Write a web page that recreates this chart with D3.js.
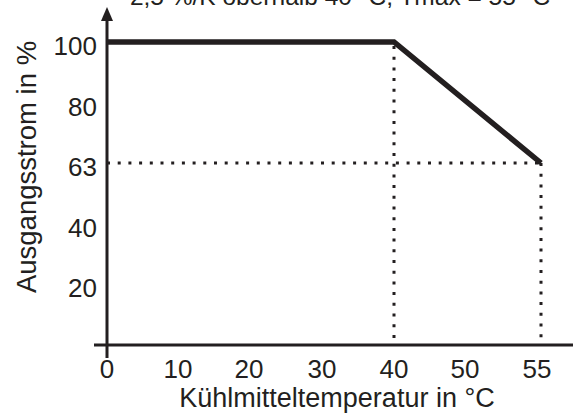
<!DOCTYPE html>
<html>
<head>
<meta charset="utf-8">
<script src="https://cdn.jsdelivr.net/npm/d3@7"></script>
<style>
body { margin:0; background:#fff; }
text { font-family: "Liberation Sans", Arial, sans-serif; fill:#231f20; }
</style>
</head>
<body>
<script>
// derating curve: temperature vs output current
var temps = [0, 40, 55];
var current = [100, 100, 63];
var xTicks = [0, 10, 20, 30, 40, 50, 55];
var yTicks = [20, 40, 63, 80, 100];
var title = "2,5 %/K oberhalb 40 °C, Tmax = 55 °C";

var totalWidth = 573, totalHeight = 414;
var ink = "#231f20";

// the drawing is schematic, so the scales are piecewise
var x = d3.scaleLinear()
      .domain([0, 10, 20, 30, 40, 50, 55])
      .range([107, 178, 249, 322, 394, 465, 541]);
var y = d3.scaleLinear()
      .domain([0, 20, 40, 63, 80, 100])
      .range([345, 284, 224, 163, 103, 42]);

var svg = d3.select("body").append("svg")
  .attr("width", totalWidth)
  .attr("height", totalHeight);

// title, partly cut off at the top
svg.append("text")
  .attr("x", 340).attr("y", 5)
  .attr("text-anchor", "middle")
  .attr("font-size", "24.5px")
  .text(title);

// axes
svg.append("line")
  .attr("x1", 94).attr("x2", totalWidth)
  .attr("y1", y(0)).attr("y2", y(0))
  .attr("stroke", ink).attr("stroke-width", 3);
svg.append("line")
  .attr("x1", x(0)).attr("x2", x(0))
  .attr("y1", 358).attr("y2", 18)
  .attr("stroke", ink).attr("stroke-width", 3);
svg.append("path")
  .attr("d", "M" + x(0) + ",7L" + (x(0) + 6) + ",21L" + (x(0) - 6) + ",21Z")
  .attr("fill", ink);

// dotted guides
var guides = [
  [[x(40), y(100) + 4], [x(40), y(0)]],
  [[x(55), y(63)], [x(55), y(0)]],
  [[x(0), y(63)], [x(55), y(63)]]
];
svg.selectAll(".guide")
  .data(guides)
  .enter().append("line")
  .attr("class", "guide")
  .attr("x1", function(d) { return d[0][0]; })
  .attr("y1", function(d) { return d[0][1]; })
  .attr("x2", function(d) { return d[1][0]; })
  .attr("y2", function(d) { return d[1][1]; })
  .attr("stroke", ink)
  .attr("stroke-width", 3)
  .attr("stroke-dasharray", "3,7.7");

// curve
var pts = temps.map(function(t, i) { return [t, current[i]]; });
svg.append("path")
  .datum(pts)
  .attr("fill", "none")
  .attr("stroke", ink)
  .attr("stroke-width", 5.5)
  .attr("stroke-linejoin", "miter")
  .attr("d", d3.line()
    .x(function(d) { return x(d[0]); })
    .y(function(d) { return y(d[1]); }));

// tick labels
svg.selectAll(".xlab")
  .data(xTicks)
  .enter().append("text")
  .attr("class", "xlab")
  .attr("x", function(d) { return d == 55 ? x(d) - 4 : x(d); })
  .attr("y", 378)
  .attr("text-anchor", "middle")
  .attr("font-size", "26px")
  .text(function(d) { return d; });

svg.selectAll(".ylab")
  .data(yTicks)
  .enter().append("text")
  .attr("class", "ylab")
  .attr("x", 97)
  .attr("y", function(d) { return y(d) + 4; })
  .attr("dy", "0.35em")
  .attr("text-anchor", "end")
  .attr("font-size", "26px")
  .text(function(d) { return d; });

// axis titles
svg.append("text")
  .attr("x", 337).attr("y", 407)
  .attr("text-anchor", "middle")
  .attr("font-size", "27px")
  .text("Kühlmitteltemperatur in °C");

svg.append("text")
  .attr("transform", "translate(36,167) rotate(-90)")
  .attr("text-anchor", "middle")
  .attr("font-size", "27.5px")
  .text("Ausgangsstrom in %");
</script>
</body>
</html>
